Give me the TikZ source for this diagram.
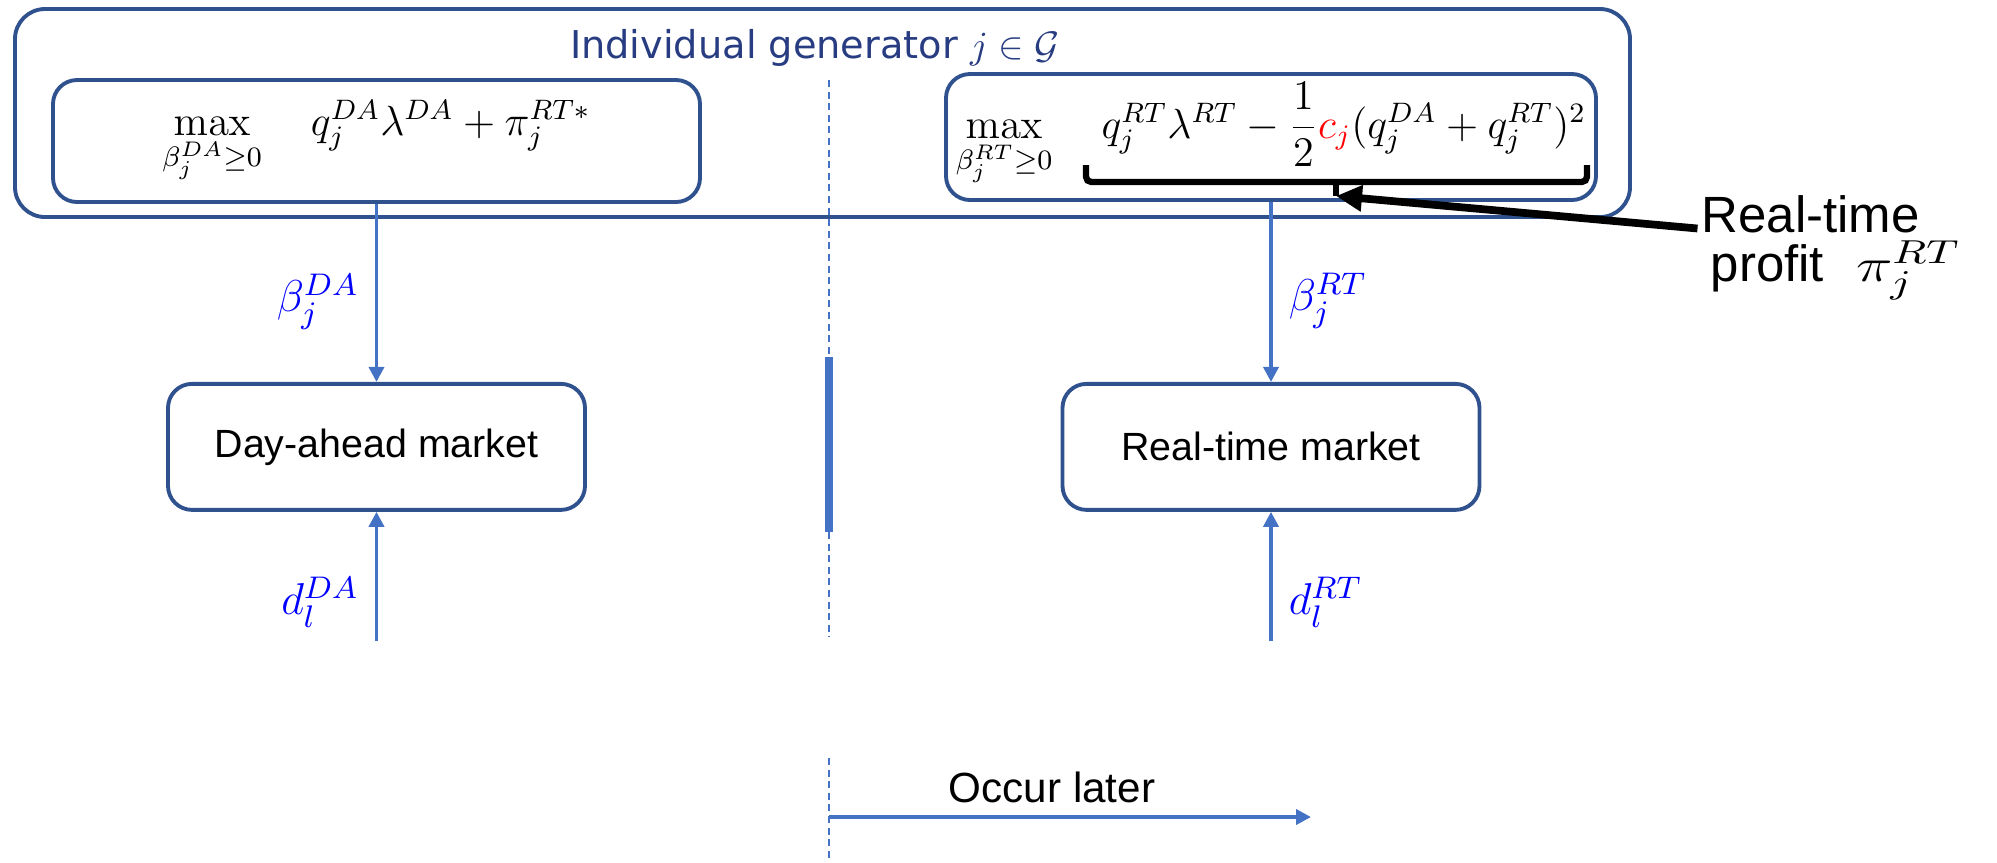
\documentclass[tikz,border=0pt]{standalone}
\usepackage{fix-cm}
\usepackage{amsmath}
\usepackage{amssymb}
\usepackage{graphicx}
\usepackage[no-math]{fontspec}
\usepackage{xcolor}
\usepackage{tikz}
\usetikzlibrary{arrows.meta, positioning, calc}
\setmainfont{Liberation Sans}
\newfontfamily\titlefont{DejaVu Sans}
\definecolor{boxblue}{RGB}{47, 82, 143}
\definecolor{flowblue}{RGB}{68, 114, 196}
\definecolor{titleblue}{RGB}{40, 60, 130}
\definecolor{signalblue}{RGB}{0, 0, 255}
\tikzstyle{genbox} = [draw=boxblue, line width=1.1pt, rounded corners=0.24cm, inner sep=0pt]
\tikzstyle{market} = [genbox, minimum width=4.17cm, minimum height=1.26cm, font=\fontsize{11.2}{13}\selectfont]
\tikzstyle{objective} = [anchor=base, inner sep=0pt, font=\fontsize{12}{15}\selectfont]
\tikzstyle{flow} = [-{Triangle[length=1.5mm, width=1.5mm]}, flowblue, line width=1pt]
\tikzstyle{signal} = [signalblue, inner sep=0pt, font=\fontsize{12.7}{15}\selectfont]
\tikzstyle{timeline} = [flowblue, line width=0.5pt, dash pattern=on 2pt off 1.3pt]
\tikzstyle{brace} = [line width=1.8pt, rounded corners=1.5pt]
\tikzstyle{pointer} = [-{Triangle[length=2.6mm, width=2.5mm]}, line width=2.2pt]
\tikzstyle{callout} = [anchor=base west, inner sep=0pt, font=\fontsize{14.5}{12}\selectfont]

\begin{document}
\begin{tikzpicture}
    \useasboundingbox (0,0) rectangle (19.97,-8.62);

    % Generator block
    \node[genbox, rounded corners=0.3cm, minimum width=16.15cm, minimum height=2.08cm] (gen) at (8.225,-1.13) {};
    \node[titleblue, font=\titlefont\fontsize{10.9}{13}\selectfont, anchor=base] (gentitle) at (8.15,-0.58) {Individual generator $j\in\mathcal{G}$};
    \node[genbox, minimum width=6.47cm, minimum height=1.22cm] (daopt) at (3.765,-1.41) {};
    \node[genbox, minimum width=6.50cm, minimum height=1.26cm] (rtopt) at (12.71,-1.37) {};
    \node[objective] (daobj) at (3.765,-1.35) {$\max\limits_{\beta_j^{DA}\geq 0}\quad q_j^{DA}\lambda^{DA}+\pi_j^{RT*}$};
    \node[objective] (rtobj) at (12.71,-1.38) {$\max\limits_{\beta_j^{RT}\geq 0}\quad q_j^{RT}\lambda^{RT}-\dfrac{1}{2}{\color{red}c_j}(q_j^{DA}+q_j^{RT})^2$};

    % Real-time profit
    \draw[brace] (10.86,-1.65) -- (10.86,-1.82) -- (15.87,-1.82) -- (15.87,-1.65);
    \draw[brace] (13.36,-1.82) -- (13.36,-1.96) coordinate (bracetip);
    \node[callout] (rtlabel) at (17.01,-2.32) {Real-time};
    \node[callout] (profitlabel) at (17.10,-2.81) {profit\hspace{0.32cm}{\fontsize{13.5}{12}\selectfont\scalebox{1.3}[1]{$\pi_j^{RT}$}}};
    \draw[pointer] ([xshift=-1pt, yshift=1pt]rtlabel.base west) -- (bracetip);

    % Markets
    \node[market, below=1.78cm of daopt] (damkt) {Day-ahead market};
    \node[market, below=1.80cm of rtopt] (rtmkt) {Real-time market};
    \coordinate[below=1.29cm of damkt] (dain);
    \coordinate[below=1.29cm of rtmkt] (rtin);
    \draw[flow] (daopt) -- (damkt) node[signal, pos=0.55, left=0.16cm] {$\beta_j^{DA}$};
    \draw[flow] (rtopt) -- (rtmkt) node[signal, pos=0.55, right=0.16cm] {$\beta_j^{RT}$};
    \draw[flow] (dain) -- (damkt) node[signal, pos=0.3, left=0.16cm] {$d_l^{DA}$};
    \draw[flow] (rtin) -- (rtmkt) node[signal, pos=0.3, right=0.16cm] {$d_l^{RT}$};

    % Time line
    \coordinate (t0) at (8.29,-0.80);
    \coordinate (t1) at (8.29,-3.57);
    \coordinate (t2) at (8.29,-5.32);
    \coordinate (t3) at (8.29,-6.37);
    \coordinate (t4) at (8.29,-7.58);
    \coordinate (t5) at (8.29,-8.62);
    \draw[timeline] (t0) -- (t1);
    \draw[flowblue, line width=2pt] (t1) -- (t2);
    \draw[timeline] (t2) -- (t3);
    \draw[timeline] (t4) -- (t5);
    \coordinate (later) at (13.11,-8.17);
    \draw[flow, line width=1.2pt] (t4 |- later) -- (later);
    \node[anchor=base, font=\fontsize{12}{14}\selectfont] (latertext) at (10.52,-8.02) {Occur later};
\end{tikzpicture}
\end{document}
